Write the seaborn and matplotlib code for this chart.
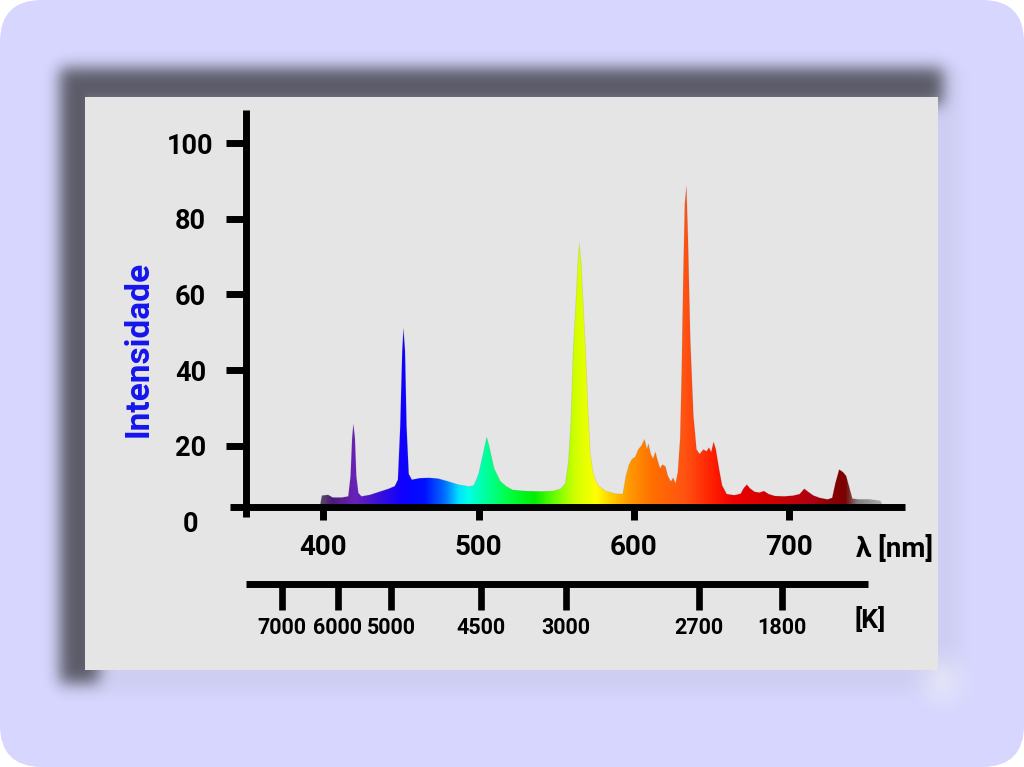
import numpy as np
import matplotlib
matplotlib.use("Agg")
import matplotlib.pyplot as plt
import seaborn as sns
from matplotlib.colors import LinearSegmentedColormap
from matplotlib.patches import FancyBboxPatch, Rectangle

# espectro da lampada (comprimento de onda em nm, intensidade relativa)
wavelength = [398, 399, 403, 406, 412, 416, 417.5, 418.5, 419.3, 420.3, 421.2, 422.5, 424.5,
              430, 436, 442, 446, 448, 449.5, 450.8, 451.6, 452.6, 453.6, 455, 457,
              462, 468, 474, 480, 487, 494, 497, 500, 503, 505.3, 507, 510, 514, 518, 522,
              530, 540, 548, 553, 556, 558, 559.5, 561, 562.5, 564, 565, 566.2, 567.5, 569,
              570.5, 572, 574, 577, 582, 588, 593, 595, 597, 599, 601, 603, 605, 607, 608.5,
              609.5, 611, 612.5, 614, 615.5, 617, 618.5, 620.5, 622, 624, 625.5, 627, 628.5,
              630, 631, 632, 633, 634, 635, 636.5, 638.5, 640.5, 642.5, 645, 647, 648.5, 650,
              651.5, 653, 655, 657, 660, 665, 669, 671, 673, 675, 678, 681, 684, 687, 691,
              697, 703, 707, 710, 712.5, 716, 720, 725, 728, 730, 732.5, 735, 737, 739, 741,
              745, 752, 759, 760]
intensity = [4.5, 6.8, 7.0, 6.3, 6.3, 6.6, 12, 22, 25.7, 22, 12, 7.5, 6.6,
             7.0, 7.8, 8.6, 9.3, 11, 25, 45, 51, 45, 25, 12.5, 11,
             11.4, 11.5, 11.3, 10.6, 9.7, 9.2, 9.5, 12.5, 18, 22.3, 19.5, 14, 10.6, 9.2, 8.3,
             8.0, 7.9, 8.0, 8.6, 10, 16, 26, 45, 56, 68, 73.5, 68, 57, 45,
             30, 18, 12.5, 9.5, 8.0, 7.3, 7.2, 12, 15, 16.5, 17, 19, 20, 21.7, 19,
             20.5, 17.8, 16.5, 18.3, 16, 14, 15, 14.5, 12, 10.5, 11.5, 10, 13,
             22, 40, 65, 84, 88.6, 75, 48, 28, 19, 17.8, 19, 18.5, 19.5, 18.3,
             21, 19, 14, 9.5, 7.2, 6.9, 7.3, 8.8, 9.7, 8.7, 7.8, 7.6, 8.0, 7.2, 6.7,
             6.6, 6.8, 7.2, 8.6, 7.8, 6.8, 6.2, 5.8, 6.2, 10, 13.7, 13, 12, 9, 6,
             5.8, 5.8, 5.4, 4.5]

nm_ticks = [400, 500, 600, 700]
y_ticks = [0, 20, 40, 60, 80, 100]
kelvin_pos = [373.2, 409.3, 443.5, 501.5, 556.3, 642.1, 695.6]
kelvin_labels = ["7000", "6000", "5000", "4500", "3000", "2700", "1800"]

# cores do arco-iris por comprimento de onda
color_nm = [398, 405, 420, 435, 450, 465, 478, 487, 493, 505, 520, 536, 550, 562, 576,
            586, 597, 612, 634, 650, 665, 690, 715, 728, 737, 745, 760]
color_hex = ["#5a4a6a", "#4b1a7a", "#6a22b8", "#3a10d8", "#1000ff", "#0010ff", "#0070ff",
             "#00e0ff", "#00ffe8", "#00ff99", "#00ff40", "#00ee00", "#70ff00", "#d0ff00",
             "#ffff00", "#ffcc00", "#ff9a00", "#ff7000", "#ff5212", "#ff2200", "#ee0000",
             "#d00000", "#b00010", "#8a0000", "#7a0000", "#808080", "#a8a8a8"]

sns.set_style("ticks")
plt.rcParams["font.family"] = ["Roboto", "DejaVu Sans"]
plt.rcParams["font.weight"] = "bold"
plt.rcParams["text.color"] = "black"
plt.rcParams["xtick.color"] = "black"
plt.rcParams["ytick.color"] = "black"

W, H = 1024, 767
fig = plt.figure(figsize=(W / 100, H / 100), dpi=100)
fig.patch.set_facecolor("white")


def blur(m, sigma):
    k = np.exp(-0.5 * (np.arange(-30, 31) / sigma) ** 2)
    k /= k.sum()
    m = np.apply_along_axis(lambda r: np.convolve(r, k, mode="same"), 1, m)
    return np.apply_along_axis(lambda c: np.convolve(c, k, mode="same"), 0, m)


# fundo lilas, sombra e painel cinza
bg = fig.add_axes([0, 0, 1, 1])
bg.axis("off")
bg.add_patch(FancyBboxPatch((0, 0), W, H, boxstyle="round,pad=0,rounding_size=42",
                            fc="#d6d6fe", ec="none", zorder=0))
yy, xx = np.mgrid[0:H, 0:W]
top_band = ((xx >= 60) & (xx <= 942) & (yy >= 68) & (yy <= 104)).astype(float)
left_band = ((xx >= 60) & (xx <= 98) & (yy >= 68) & (yy <= 682)).astype(float)
dark = np.maximum(blur(top_band, 7.5), blur(left_band, 7.5))
faint = blur(((xx >= 60) & (xx <= 958) & (yy >= 68) & (yy <= 690)).astype(float), 7.0)
shadow = np.zeros((H, W, 4))
shadow[..., :3] = 0.5
shadow[..., 3] = faint * 0.09
bg.imshow(shadow, extent=[0, W, H, 0], aspect="auto", zorder=1)
shadow2 = np.zeros((H, W, 4))
shadow2[..., :3] = 0.1
shadow2[..., 3] = dark * 0.64
bg.imshow(shadow2, extent=[0, W, H, 0], aspect="auto", zorder=1)
glow = np.zeros((H, W, 4))
glow[..., :3] = 1.0
glow[..., 3] = 0.4 * np.exp(-((xx - 942) ** 2 + (yy - 680) ** 2) / (2 * 16.0 ** 2))
bg.imshow(glow, extent=[0, W, H, 0], aspect="auto", zorder=2)
bg.add_patch(Rectangle((85, 97), 853, 573, fc="#e5e5e5", ec="none", zorder=3))
bg.set_xlim(0, W)
bg.set_ylim(H, 0)

# grafico principal
ax = fig.add_axes([229.6 / W, 1 - 521.3 / H, 678.6 / W, 411.3 / H])
ax.patch.set_alpha(0)

poly = ax.fill_between(wavelength, 3.8, intensity, color="none", lw=0)
cmap = LinearSegmentedColormap.from_list(
    "espectro", list(zip([(c - 398) / (760 - 398) for c in color_nm], color_hex)))
grad = np.linspace(398, 760, 1500)[None, :]
im = ax.imshow(grad, cmap=cmap, vmin=398, vmax=760, extent=[398, 760, 3.8, 95],
               aspect="auto", origin="lower", interpolation="bilinear")
im.set_clip_path(poly.get_paths()[0], poly.get_transform())
sns.lineplot(x=wavelength, y=intensity, ax=ax, color="#666666", lw=0.6, alpha=0.15)

ax.set_xlim(339.5, 777)
ax.set_ylim(0, 108.8)
ax.spines["top"].set_visible(False)
ax.spines["right"].set_visible(False)
ax.spines["left"].set_position(("data", 350.0))
ax.spines["bottom"].set_position(("data", 3.8))
ax.spines["left"].set_bounds(1.1, 108.8)
ax.spines["bottom"].set_bounds(339.5, 775)
for s in ["left", "bottom"]:
    ax.spines[s].set_linewidth(5)
    ax.spines[s].set_color("black")
    ax.spines[s].set_capstyle("butt")

ax.set_xticks(nm_ticks)
ax.set_yticks(y_ticks)
ax.tick_params(axis="x", direction="out", length=9.5, width=5, pad=10, labelsize=20)
ax.tick_params(axis="y", direction="out", length=14.4, width=5, pad=25.5, labelsize=19.5)
for lbl in ax.get_yticklabels():
    lbl.set_ha("center")
ax.yaxis.get_major_ticks()[0].tick1line.set_visible(False)
ax.set_xlabel("")
ax.set_ylabel("")

# escala de temperatura de cor
kax = ax.secondary_xaxis(-0.1517)
kax.set_xticks(kelvin_pos, kelvin_labels)
kax.spines["bottom"].set_bounds(350.0, 751)
kax.spines["bottom"].set_linewidth(5)
kax.spines["bottom"].set_color("black")
kax.spines["bottom"].set_capstyle("butt")
kax.tick_params(axis="x", direction="out", length=19, width=4.8, pad=5, labelsize=15.5,
                colors="black")

ax.text(0.9805, -0.0673, "λ [nm]", transform=ax.transAxes, ha="center", va="center",
        fontsize=20, fontweight="bold")
ax.text(0.9437, -0.240, "[K]", transform=ax.transAxes, ha="center", va="center",
        fontsize=19, fontweight="bold")
fig.text(139 / W, 1 - 349 / H, "Intensidade", rotation=90, color="#1414ee", fontsize=24,
         fontweight="bold", ha="center", va="center")

fig.savefig("out.png", dpi=100)
